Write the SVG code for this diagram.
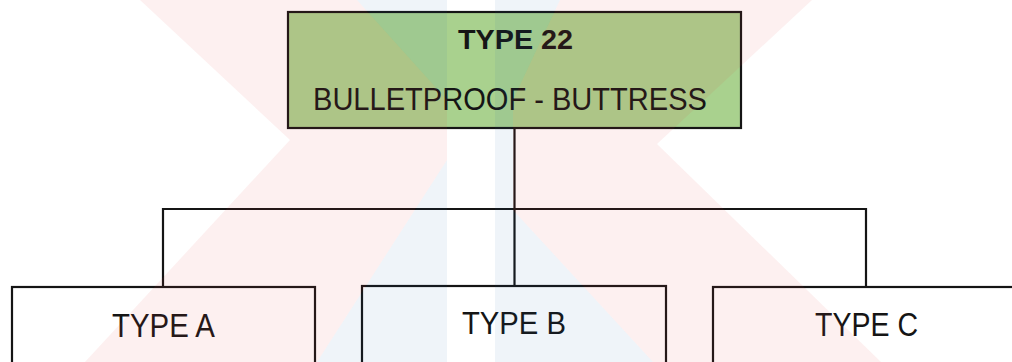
<svg xmlns="http://www.w3.org/2000/svg" width="1012" height="362" viewBox="0 0 1012 362">
<style>
.box{stroke:#151515;stroke-width:2.2}
.wire{stroke:#151515;stroke-width:2.2;fill:none}
.t{font-family:"Liberation Sans",Arial,sans-serif;fill:#151515;text-anchor:middle}
.pk{fill:#e63c3c;fill-opacity:0.08}
.bl{fill:#1e64aa;fill-opacity:0.07}
</style>
<defs>
<mask id="stripe">
<rect x="0" y="0" width="1012" height="362" fill="#fff"/>
<rect x="447" y="0" width="48" height="362" fill="#000"/>
</mask>
</defs>
<rect x="0" y="0" width="1012" height="362" fill="#fff"/>
<g id="connectors">
<path class="wire" d="M514.5 128 V286"/>
<path class="wire" d="M163 287 V209 H866 V286"/>
</g>
<g id="node-type22">
<rect class="box" x="288" y="12" width="453" height="116" fill="#a9d18e"/>
<text class="t" x="515.5" y="49" font-size="27" font-weight="bold" textLength="115" lengthAdjust="spacingAndGlyphs">TYPE 22</text>
<text class="t" x="510" y="110" font-size="31" textLength="394" lengthAdjust="spacingAndGlyphs">BULLETPROOF - BUTTRESS</text>
</g>
<g id="node-typeA">
<rect class="box" x="12" y="287" width="303" height="100" fill="#fff"/>
<text class="t" x="163.5" y="337" font-size="33" textLength="103" lengthAdjust="spacingAndGlyphs">TYPE A</text>
</g>
<g id="node-typeB">
<rect class="box" x="362" y="286" width="304" height="100" fill="#fff"/>
<text class="t" x="514" y="334" font-size="32" textLength="104" lengthAdjust="spacingAndGlyphs">TYPE B</text>
</g>
<g id="node-typeC">
<rect class="box" x="713" y="287" width="320" height="100" fill="#fff"/>
<text class="t" x="866.5" y="336" font-size="33" textLength="103" lengthAdjust="spacingAndGlyphs">TYPE C</text>
</g>
<g id="watermark">
<polygon class="pk" points="140,0 357,0 447,100 447,160 317,362 85,362 290,140"/>
<polygon class="pk" points="560,0 812,0 657,144 881,362 653,362 513,210 513,100"/>
<polygon class="bl" mask="url(#stripe)" points="357,0 560,0 513,100 513,210 653,362 317,362 447,160 447,100"/>
</g>
</svg>
